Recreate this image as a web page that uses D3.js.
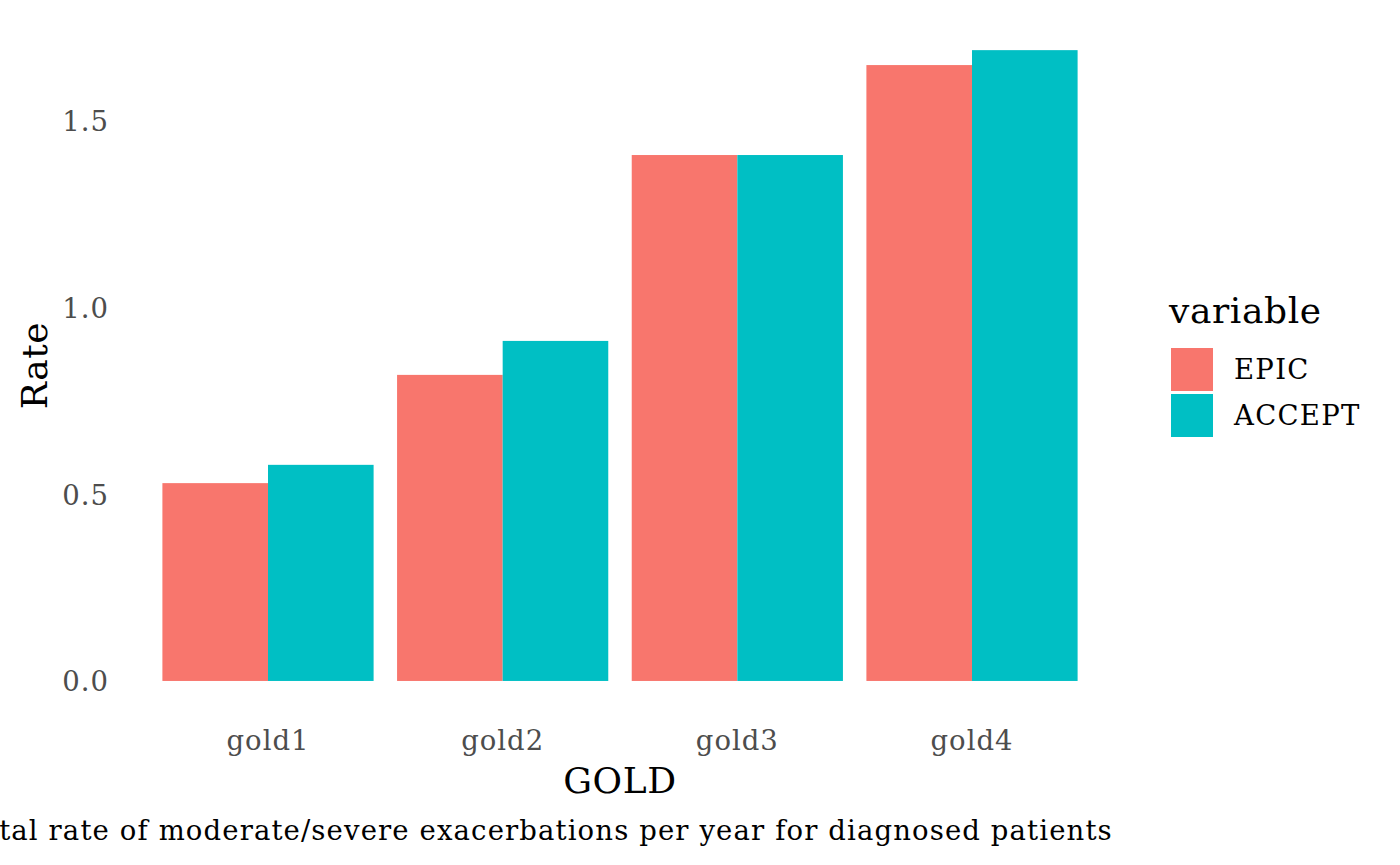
<!DOCTYPE html>
<html>
<head>
<meta charset="utf-8">
<script src="https://cdn.jsdelivr.net/npm/d3@7"></script>
<style>
  html, body { margin: 0; padding: 0; background: #fff; }
  svg { display: block; font-family: "DejaVu Serif", serif; }
  .small { font-size: 27.5px; letter-spacing: 1px; }
  .cap { font-size: 27.5px; letter-spacing: 1.12px; }
  .legtext { font-size: 27.5px; letter-spacing: 1.3px; }
  .big { font-size: 36px; letter-spacing: 0.6px; }
</style>
</head>
<body>
<svg id="chart" width="1400" height="865"></svg>
<script>
const categories = ["gold1", "gold2", "gold3", "gold4"];
const seriesNames = ["EPIC", "ACCEPT"];
const epicValues = [0.530, 0.820, 1.409, 1.650];
const acceptValues = [0.579, 0.911, 1.409, 1.690];
const yTicks = [0, 0.5, 1.0, 1.5];
const seriesColors = ["#F8766D", "#00BFC4"];
const xTitle = "GOLD";
const yTitle = "Rate";
const legendTitle = "variable";
const caption = "Total rate of moderate/severe exacerbations per year for diagnosed patients";

const data = categories.map((c, i) => ({
  cat: c,
  values: [
    { key: seriesNames[0], value: epicValues[i] },
    { key: seriesNames[1], value: acceptValues[i] }
  ]
}));

const svg = d3.select("#chart");
const panel = { left: 127.2, right: 1112.8, top: 18.6, bottom: 712.5 };

const x = d3.scaleBand()
  .domain(categories)
  .range([panel.left, panel.right])
  .paddingInner(0.1)
  .paddingOuter(0.15);

const xInner = d3.scaleBand()
  .domain(seriesNames)
  .range([0, x.bandwidth()])
  .padding(0);

const maxV = d3.max([...epicValues, ...acceptValues]);
const y = d3.scaleLinear()
  .domain([0 - 0.05 * maxV, maxV + 0.05 * maxV])
  .range([panel.bottom, panel.top]);

const color = d3.scaleOrdinal().domain(seriesNames).range(seriesColors);

// bars
const groups = svg.append("g").selectAll("g")
  .data(data).join("g")
  .attr("transform", d => `translate(${x(d.cat)},0)`);
groups.selectAll("rect")
  .data(d => d.values).join("rect")
  .attr("x", d => xInner(d.key))
  .attr("width", xInner.bandwidth())
  .attr("y", d => y(d.value))
  .attr("height", d => y(0) - y(d.value))
  .attr("fill", d => color(d.key));

// y axis
const yAxis = d3.axisLeft(y).tickValues(yTicks).tickFormat(d3.format(".1f")).tickSize(0).tickPadding(0);
const yg = svg.append("g").attr("transform", `translate(109,0)`).call(yAxis);
yg.select(".domain").remove();
yg.attr("font-size", null).attr("font-family", null);
yg.selectAll("text")
  .attr("class", "small")
  .attr("fill", "#4D4D4D")
  .attr("dy", "0.36em");

// x axis
const xAxis = d3.axisBottom(x).tickSize(0).tickPadding(0);
const xg = svg.append("g").attr("transform", `translate(0,730)`).call(xAxis);
xg.select(".domain").remove();
xg.attr("font-size", null).attr("font-family", null);
xg.selectAll("text")
  .attr("class", "small")
  .attr("fill", "#4D4D4D")
  .attr("dy", "0.71em");

// axis titles
svg.append("text")
  .attr("class", "big")
  .attr("x", (panel.left + panel.right) / 2)
  .attr("y", 793)
  .attr("text-anchor", "middle")
  .attr("fill", "#000")
  .text(xTitle);

svg.append("text")
  .attr("class", "big")
  .attr("transform", `translate(47,${(panel.top + panel.bottom) / 2}) rotate(-90)`)
  .attr("text-anchor", "middle")
  .attr("fill", "#000")
  .text(yTitle);

// caption (right-aligned to the panel, overflows the left edge as in the reference)
svg.append("text")
  .attr("class", "cap")
  .attr("x", panel.right)
  .attr("y", 840)
  .attr("text-anchor", "end")
  .attr("fill", "#000")
  .text(caption);

// legend
const lg = svg.append("g");
lg.append("text")
  .attr("class", "big")
  .attr("x", 1169)
  .attr("y", 323)
  .attr("fill", "#000")
  .text(legendTitle);
const keyTops = [348, 394];
seriesNames.forEach((s, i) => {
  lg.append("rect")
    .attr("x", 1171).attr("y", keyTops[i])
    .attr("width", 42).attr("height", 43)
    .attr("fill", color(s));
  lg.append("text")
    .attr("class", "legtext")
    .attr("x", 1234)
    .attr("y", keyTops[i] + 21.5)
    .attr("dy", "0.36em")
    .attr("fill", "#000")
    .text(s);
});
</script>
</body>
</html>
